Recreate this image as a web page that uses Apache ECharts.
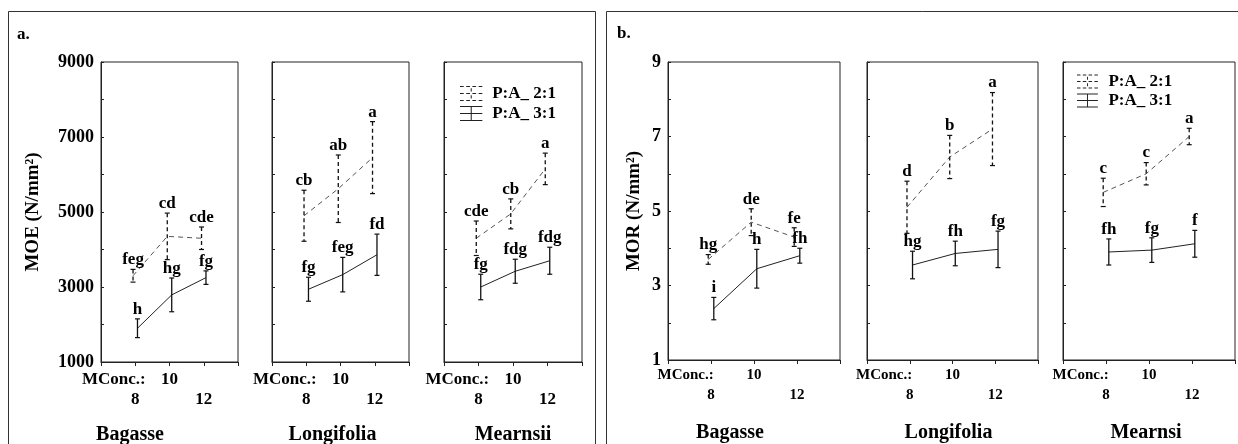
<!DOCTYPE html>
<html>
<head>
<meta charset="utf-8">
<script src="https://cdn.jsdelivr.net/npm/echarts@6/dist/echarts.min.js"></script>
<style>
  html, body { margin: 0; padding: 0; background: #fff; }
  #chart { width: 1238px; height: 444px; }
</style>
</head>
<body>
<div id="chart"></div>
<script>
// Moisture concentration levels (x) and the two P:A ratios
const concentrations = [8, 10, 12];
const groupsA = ['Bagasse', 'Longifolia', 'Mearnsii'];
const groupsB = ['Bagasse', 'Longifolia', 'Mearnsi'];
const ratioNames = ['P:A_ 2:1', 'P:A_ 3:1'];

// MOE (N/mm²): one row per species, columns follow concentrations
const moeMean21 = [[3300, 4350, 4300], [4900, 5620, 6450], [4300, 4950, 6150]];
const moeErr21 = [[170, 620, 300], [680, 900, 960], [460, 400, 420]];
const moeLetters21 = [['feg', 'cd', 'cde'], ['cb', 'ab', 'a'], ['cde', 'cb', 'a']];
const moeMean31 = [[1900, 2790, 3250], [2940, 3330, 3860], [3000, 3420, 3700]];
const moeErr31 = [[250, 450, 180], [320, 460, 550], [340, 320, 360]];
const moeLetters31 = [['h', 'hg', 'fg'], ['fg', 'feg', 'fd'], ['fg', 'fdg', 'fdg']];

// MOR (N/mm²)
const morMean21 = [[3.7, 4.7, 4.3], [5.1, 6.45, 7.2], [5.5, 6.0, 7.0]];
const morErr21 = [[0.13, 0.36, 0.25], [0.7, 0.58, 0.98], [0.38, 0.3, 0.22]];
const morLetters21 = [['hg', 'de', 'fe'], ['d', 'b', 'a'], ['c', 'c', 'a']];
const morMean31 = [[2.38, 3.45, 3.8], [3.55, 3.86, 3.97], [3.9, 3.95, 4.12]];
const morErr31 = [[0.3, 0.52, 0.2], [0.37, 0.33, 0.49], [0.35, 0.33, 0.36]];
const morLetters31 = [['i', 'h', 'fh'], ['hg', 'fh', 'fg'], ['fh', 'fg', 'f']];

// Labelled y ticks
const moeTicks = [1000, 3000, 5000, 7000, 9000];
const morTicks = [1, 3, 5, 7, 9];

const FONT = '"Liberation Serif", "Times New Roman", serif';
const INK = '#111';
const dodge = 0.13; // horizontal offset between the two ratios at each level

const dashedIcon = 'path://' + [0, 7.5, 15].map(y =>
    [[0, 4], [6.7, 10.7], [13.3, 17.3], [20, 24]].map(([a, b]) =>
      `M${a} ${y}H${b}V${y + 1.1}H${a}Z`).join('')).join('') +
  'M11.5 2.5H12.6V6H11.5Z M11.5 10H12.6V13.5H11.5Z';
const solidIcon = 'path://M0 0H24V1.1H0Z M0 7.5H24V8.6H0Z M0 15H24V16.1H0Z M11.5 0H12.6V16H11.5Z';

const panels = [
  {
    groups: groupsA, yMin: 1000, yMax: 9000, yStep: 1000, yTicks: moeTicks,
    yName: 'MOE (N/mm²)', yNameGap: 58,
    mean: [moeMean21, moeMean31], err: [moeErr21, moeErr31], letters: [moeLetters21, moeLetters31],
    boxes: [[101, 137], [272, 137], [444, 138]], top: 62, height: 300,
    prefixWidth: 79, xFont: 17, xMargin: 8, nameGap: 63,
    namePad: [79, 16, 0],
    legend: { left: 460, top: 85, itemHeight: 15, itemGap: 3 }
  },
  {
    groups: groupsB, yMin: 1, yMax: 9, yStep: 1, yTicks: morTicks,
    yName: 'MOR (N/mm²)', yNameGap: 24,
    mean: [morMean21, morMean31], err: [morErr21, morErr31], letters: [morLetters21, morLetters31],
    boxes: [[668, 172], [867, 171], [1063, 172]], top: 62, height: 298,
    prefixWidth: 89, xFont: 15, xMargin: 5, nameGap: 63,
    namePad: [48, 8, 6],
    legend: { left: 1077, top: 73, itemHeight: 14, itemGap: 2 }
  }
];

function errorBars(letters, dashed) {
  return function (params, api) {
    const x = api.value(0), m = api.value(1), e = api.value(2);
    const top = api.coord([x, m + e]);
    const bot = api.coord([x, m - e]);
    const cap = 2.5;
    const barStyle = { stroke: INK, lineWidth: 1.3, lineDash: dashed ? [4, 3] : null };
    const capStyle = { stroke: INK, lineWidth: 1.2 };
    return {
      type: 'group',
      children: [
        { type: 'line', shape: { x1: top[0], y1: top[1], x2: bot[0], y2: bot[1] }, style: barStyle },
        { type: 'line', shape: { x1: top[0] - cap, y1: top[1], x2: top[0] + cap, y2: top[1] }, style: capStyle },
        { type: 'line', shape: { x1: bot[0] - cap, y1: bot[1], x2: bot[0] + cap, y2: bot[1] }, style: capStyle },
        {
          type: 'text',
          style: {
            text: letters[params.dataIndex], x: top[0], y: top[1] - 1,
            align: 'center', verticalAlign: 'bottom',
            font: 'bold 17px ' + FONT, fill: '#000'
          }
        }
      ]
    };
  };
}

const option = {
  animation: false,
  backgroundColor: '#fff',
  grid: [], xAxis: [], yAxis: [], series: [], legend: [],
  graphic: [
    { type: 'rect', silent: true, shape: { x: 8.5, y: 11.5, width: 587, height: 460 },
      style: { fill: 'none', stroke: '#333', lineWidth: 1 } },
    { type: 'rect', silent: true, shape: { x: 606.5, y: 11.5, width: 660, height: 460 },
      style: { fill: 'none', stroke: '#333', lineWidth: 1 } },
    { type: 'text', left: 17, top: 26, style: { text: 'a.', font: 'bold 17px ' + FONT, fill: '#000' } },
    { type: 'text', left: 617, top: 25, style: { text: 'b.', font: 'bold 17px ' + FONT, fill: '#000' } }
  ]
};

panels.forEach(p => {
  p.boxes.forEach((box, gi) => {
    const idx = option.grid.length;
    const first = gi === 0;
    option.grid.push({
      left: box[0], top: p.top, width: box[1], height: p.height,
      outerBoundsMode: 'none', containLabel: false,
      show: true, borderColor: '#222', borderWidth: 1, backgroundColor: 'transparent'
    });
    const txt = { fontFamily: FONT, fontWeight: 'bold', fontSize: p.xFont, color: '#000', lineHeight: 20 };
    option.xAxis.push({
      gridIndex: idx, type: 'value', min: 6, max: 14, interval: 2,
      axisLine: { lineStyle: { color: '#222', width: 1 } },
      axisTick: { length: 4, lineStyle: { color: '#222' } },
      splitLine: { show: false },
      axisLabel: Object.assign({}, txt, {
        margin: p.xMargin,
        formatter: v => {
          const k = concentrations.indexOf(v);
          if (k < 0) return '';
          if (k === 1) return '{p|MConc.:}{v|' + v + '}{s|}';
          return '\n{v|' + v + '}';
        },
        rich: {
          p: Object.assign({}, txt, { width: p.prefixWidth, align: 'left' }),
          v: Object.assign({}, txt),
          s: Object.assign({}, txt, { width: p.prefixWidth })
        }
      }),
      name: p.groups[gi], nameLocation: 'middle', nameGap: p.nameGap,
      nameTextStyle: {
        fontFamily: FONT, fontWeight: 'bold', fontSize: 20, color: '#000',
        padding: [0, p.namePad[gi], 0, 0]
      }
    });
    option.yAxis.push({
      gridIndex: idx, type: 'value', min: p.yMin, max: p.yMax, interval: p.yStep,
      axisLine: { show: true, lineStyle: { color: '#222', width: 1 } },
      axisTick: { show: true, inside: true, length: 3, lineStyle: { color: '#222' } },
      splitLine: { show: false },
      axisLabel: {
        show: first, margin: 7, color: '#000',
        fontFamily: FONT, fontWeight: 'bold', fontSize: 18,
        formatter: v => p.yTicks.indexOf(v) >= 0 ? String(v) : ''
      },
      name: first ? p.yName : '', nameLocation: 'middle', nameGap: p.yNameGap,
      nameTextStyle: { fontFamily: FONT, fontWeight: 'bold', fontSize: 19, color: '#000' }
    });

    [0, 1].forEach(r => {
      const shift = r === 0 ? -dodge : dodge;
      const mean = p.mean[r][gi], err = p.err[r][gi];
      option.series.push({
        type: 'line', name: ratioNames[r], xAxisIndex: idx, yAxisIndex: idx,
        data: concentrations.map((c, i) => [c + shift, mean[i]]),
        symbol: 'none', silent: true, z: 2, color: '#333',
        lineStyle: r === 0 ? { type: [5, 4], width: 1, color: '#555' } : { type: 'solid', width: 1, color: '#222' }
      });
      option.series.push({
        type: 'custom', name: ratioNames[r], xAxisIndex: idx, yAxisIndex: idx,
        data: concentrations.map((c, i) => [c + shift, mean[i], err[i]]),
        encode: { x: 0, y: 1 }, silent: true, z: 3, color: '#222',
        renderItem: errorBars(p.letters[r][gi], r === 0)
      });
    });
  });

  option.legend.push({
    left: p.legend.left, top: p.legend.top, orient: 'vertical', padding: 0,
    itemWidth: 24, itemHeight: p.legend.itemHeight, itemGap: p.legend.itemGap,
    selectedMode: false,
    itemStyle: { borderWidth: 0 },
    textStyle: {
      fontFamily: FONT, fontWeight: 'bold', fontSize: 17, lineHeight: 16,
      color: '#000', padding: [0, 0, 0, 4]
    },
    data: [
      { name: ratioNames[0], icon: dashedIcon, itemStyle: { color: '#222' } },
      { name: ratioNames[1], icon: solidIcon, itemStyle: { color: '#222' } }
    ]
  });
});

const chart = echarts.init(document.getElementById('chart'), null, { renderer: 'canvas' });
chart.setOption(option);
</script>
</body>
</html>
